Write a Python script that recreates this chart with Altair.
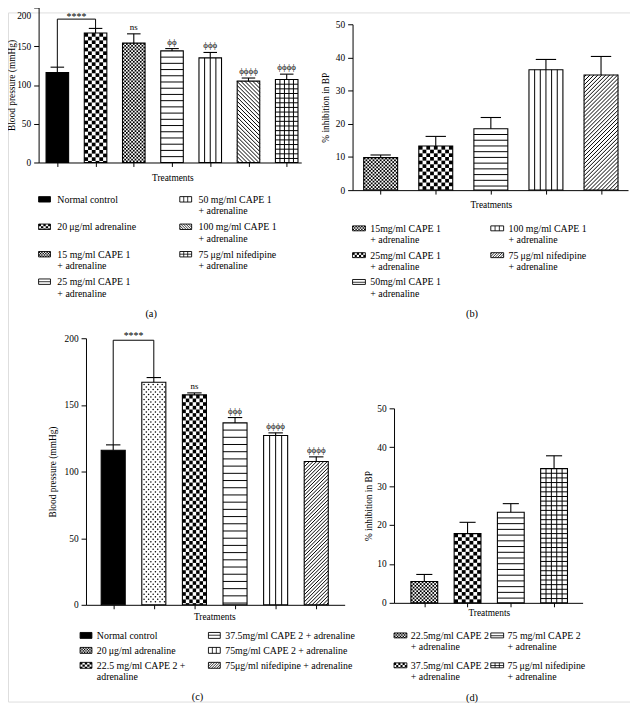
import altair as alt
import numpy as np
import pandas as pd

FONT = "Liberation Serif"
PHI = "\u03d5"
MU = "\u03bc"

# ---------------- values ----------------
A_LABELS = ["Normal control", "20\u2009" + MU + "g/ml adrenaline", "15 mg/ml CAPE 1\n+ adrenaline",
            "25 mg/ml CAPE 1\n+ adrenaline", "50 mg/ml CAPE 1\n+ adrenaline",
            "100 mg/ml CAPE 1\n+ adrenaline", "75\u2009" + MU + "g/ml nifedipine\n+ adrenaline"]
A_VALUES = [116, 167, 154, 144, 135, 105, 107]
A_ERRORS = [7, 6, 12, 3, 7, 4, 7]
A_SIG = ["", "", "ns", PHI * 2, PHI * 3, PHI * 4, PHI * 4]
A_PATTERNS = ["solid", "checker", "fine", "hlines", "vlines", "diag_down", "grid"]
A_BRACKET = 185
A_STARS = "****"

B_LABELS = ["15mg/ml CAPE 1\n+ adrenaline", "25mg/ml CAPE 1\n+ adrenaline", "50mg/ml CAPE 1\n+ adrenaline",
            "100 mg/ml CAPE 1\n+ adrenaline", "75\u2009" + MU + "g/ml nifedipine\n+ adrenaline"]
B_VALUES = [9.8, 13.3, 18.5, 36.3, 34.7]
B_ERRORS = [0.8, 2.9, 3.4, 3.1, 5.6]
B_PATTERNS = ["fine", "checker", "hlines", "vlines", "diag_up"]

C_LABELS = ["Normal control", "20\u2009" + MU + "g/ml adrenaline", "22.5 mg/ml CAPE 2 +\nadrenaline",
            "37.5mg/ml CAPE 2 + adrenaline", "75mg/ml CAPE 2 + adrenaline",
            "75" + MU + "g/ml nifedipine + adrenaline"]
C_VALUES = [116, 167, 157.5, 136.5, 127, 107.5]
C_ERRORS = [4, 3.5, 1.5, 4, 2, 3.5]
C_SIG = ["", "", "ns", PHI * 3, PHI * 4, PHI * 4]
C_PATTERNS = ["solid", "dots", "checker", "hlines", "vlines", "diag_up"]
C_LEGEND_PATTERNS = ["solid", "fine", "checker", "hlines", "vlines", "diag_up"]
C_BRACKET = 198.5
C_STARS = "****"

D_LABELS = ["22.5mg/ml CAPE 2\n+ adrenaline", "37.5mg/ml CAPE 2\n+ adrenaline",
            "75 mg/ml CAPE 2\n+ adrenaline", "75\u2009" + MU + "g/ml nifedipine\n+ adrenaline"]
D_VALUES = [5.5, 17.8, 23.3, 34.5]
D_ERRORS = [1.8, 2.9, 2.2, 3.3]
D_PATTERNS = ["fine", "checker", "hlines", "grid"]

CAPTIONS = ["(a)", "(b)", "(c)", "(d)"]

# ---------------- layout (page pixels) ----------------
W, H = 630, 698
OFF = 8

PANELS = {
    "a": dict(xdom=[-0.49, 6.38], xr=[39, 305], ydom=[0, 200], yr=[160, 3], half=0.295,
              yvals=[0, 50, 100, 150, 200], ytitle="Blood pressure (mmHg)", ytx=12, xt=(174.5, 175),
              sp={"hlines": 6.3}, top_label_shift=8),
    "b": dict(xdom=[-0.51, 4.49], xr=[357, 636], ydom=[0, 50], yr=[188, 20], half=0.308,
              yvals=[0, 10, 20, 30, 40, 50], ytitle="% inhibition in BP", ytx=330, xt=(497, 203),
              sp={"hlines": 5.8, "vlines": 5.7}),
    "c": dict(xdom=[-0.67, 5.7], xr=[87, 349], ydom=[0, 200], yr=[608, 338], half=0.296,
              yvals=[0, 50, 100, 150, 200], ytitle="Blood pressure (mmHg)", ytx=53, xt=(217, 620),
              sp={"hlines": 7.3, "vlines": 6.0, "diag": 3.6}),
    "d": dict(xdom=[-0.70, 3.66], xr=[399, 590], ydom=[0, 50], yr=[606, 409], half=0.31,
              yvals=[0, 10, 20, 30, 40, 50], ytitle="% inhibition in BP", ytx=373, xt=(495, 616),
              sp={"hlines": 5.8}),
}
LEGENDS = {
    "a": dict(cols=[39, 182], rows=[197.3, 280.7], nrows=4,
              place=[(0, 0), (0, 1), (0, 2), (0, 3), (1, 0), (1, 1), (1, 2)], sw=(12, 5.5), dx=19),
    "b": dict(cols=[357, 497], rows=[226.7, 281], nrows=3,
              place=[(0, 0), (0, 1), (0, 2), (1, 0), (1, 1)], sw=(13, 5), dx=18),
    "c": dict(cols=[81, 211], rows=[639, 669.3], nrows=3,
              place=[(0, 0), (0, 1), (0, 2), (1, 0), (1, 1), (1, 2)], sw=(12, 6), dx=17),
    "d": dict(cols=[399, 497], rows=[639, 669.3], nrows=2,
              place=[(0, 0), (0, 1), (1, 0), (1, 1)], sw=(13, 5), dx=17),
}
CAPTION_POS = [(153, 313), (478, 313), (200, 701), (478, 702)]

SP_BAR = {"checker": 3.7, "fine": 1.8, "hlines": 6.3, "vlines": 5.6, "grid": 4.7, "gridv": 5.0,
          "diag": 4.0, "dots": 4.6}
SP_SW = {"checker": 2.2, "fine": 1.4, "hlines": 2.8, "vlines": 4.0, "grid": 2.7, "gridv": 4.0,
         "diag": 2.6, "dots": 2.0}


def mkscale(dom, rng):
    return alt.Scale(domain=[float(d) for d in dom], range=[float(rng[0] - OFF), float(rng[1] - OFF)],
                     nice=False, zero=False)


class Frame:
    def __init__(self, xdom, xr, ydom, yr):
        self.xs = mkscale(xdom, xr)
        self.ys = mkscale(ydom, yr)
        self.kx = (xr[1] - xr[0]) / (xdom[1] - xdom[0])
        self.ky = (yr[0] - yr[1]) / (ydom[1] - ydom[0])

    def enc(self, x="x", y="y", x2=None, y2=None, xaxis=None, yaxis=None, **kw):
        e = {"x": alt.X(x + ":Q", scale=self.xs, axis=xaxis),
             "y": alt.Y(y + ":Q", scale=self.ys, axis=yaxis)}
        if x2:
            e["x2"] = alt.X2(x2 + ":Q")
        if y2:
            e["y2"] = alt.Y2(y2 + ":Q")
        e.update(kw)
        return e


def pattern_elems(kind, x0, x1, y0, y1, kx, ky, sp):
    Wp = (x1 - x0) * kx
    Hp = (y1 - y0) * ky
    rects, rules, dots = [], [], []

    def R(u0, u1, v0, v1):
        rects.append({"x": x0 + u0 / kx, "x2": x0 + u1 / kx, "y": y0 + v0 / ky, "y2": y0 + v1 / ky})

    def L(u0, v0, u1, v1):
        rules.append({"x": x0 + u0 / kx, "x2": x0 + u1 / kx, "y": y0 + v0 / ky, "y2": y0 + v1 / ky})

    if kind == "solid":
        R(0, Wp, 0, Hp)
    if kind in ("checker", "fine"):
        s = sp[kind]
        nx = max(2, int(round(Wp / s)))
        sx = Wp / nx
        ny = int(np.ceil(Hp / s - 1e-6))
        for j in range(ny):
            v1 = Hp - j * s
            v0 = max(0.0, Hp - (j + 1) * s)
            for i in range(nx):
                if (i + j) % 2 == 0:
                    R(i * sx, (i + 1) * sx, v0, v1)
    if kind in ("hlines", "grid"):
        s = sp[kind]
        v = Hp - s
        while v > 0.6:
            L(0, v, Wp, v)
            v -= s
    if kind in ("vlines", "grid"):
        s = sp["vlines" if kind == "vlines" else "gridv"]
        n = max(2, int(round(Wp / s)))
        for i in range(1, n):
            u = i * Wp / n
            L(u, 0, u, Hp)
    if kind == "diag_up":
        s = sp["diag"]
        c = -Hp + s / 2
        while c < Wp:
            ua, ub = max(0.0, c), min(Wp, c + Hp)
            if ub - ua > 0.3:
                L(ua, ua - c, ub, ub - c)
            c += s
    if kind == "diag_down":
        s = sp["diag"]
        c = s / 2
        while c < Wp + Hp:
            ua, ub = max(0.0, c - Hp), min(Wp, c)
            if ub - ua > 0.3:
                L(ua, c - ua, ub, c - ub)
            c += s
    if kind == "dots":
        s = sp["dots"]
        j = 0
        v = Hp - s / 2
        while v > 0.8:
            u = s / 2 + (s / 2 if j % 2 else 0)
            while u < Wp - 0.8:
                dots.append({"x": x0 + u / kx, "y": y0 + v / ky})
                u += s
            v -= s * 0.55
            j += 1
    return rects, rules, dots


def patterned(fr, items, sp, lw=1.0, olw=1.0, dot=2.4, axes=(None, None)):
    boxes, rects, rules, dots = [], [], [], []
    for kind, x0, x1, y0, y1 in items:
        boxes.append({"x": x0, "x2": x1, "y": y0, "y2": y1})
        r, l, d = pattern_elems(kind, x0, x1, y0, y1, fr.kx, fr.ky, sp)
        rects += r
        rules += l
        dots += d
    out = [alt.Chart(pd.DataFrame(boxes)).mark_rect(fill="white", strokeWidth=0).encode(
        **fr.enc(x2="x2", y2="y2", xaxis=axes[0], yaxis=axes[1]))]
    if rects:
        out.append(alt.Chart(pd.DataFrame(rects)).mark_rect(fill="black", strokeWidth=0).encode(
            **fr.enc(x2="x2", y2="y2")))
    if rules:
        out.append(alt.Chart(pd.DataFrame(rules)).mark_rule(color="black", strokeWidth=lw).encode(
            **fr.enc(x2="x2", y2="y2")))
    if dots:
        out.append(alt.Chart(pd.DataFrame(dots)).mark_circle(color="black", size=dot, opacity=1).encode(
            **fr.enc()))
    out.append(alt.Chart(pd.DataFrame(boxes)).mark_rect(fill="white", fillOpacity=0, stroke="black",
                                                        strokeWidth=olw).encode(**fr.enc(x2="x2", y2="y2")))
    return out


AX_COMMON = dict(domainColor="black", domainWidth=1, tickColor="black", tickWidth=1, grid=False,
                 titleFont=FONT, titleFontSize=9.5, titleFontWeight=400, titleColor="black")


def yaxis(g):
    ax0 = g["xr"][0] - OFF
    extra = {}
    if g.get("top_label_shift"):
        extra["labelOffset"] = {"condition": {"test": "datum.value == %d" % g["yvals"][-1],
                                              "value": g["top_label_shift"]}, "value": 0}
    return alt.Axis(orient="left", offset=-ax0, values=g["yvals"], tickSize=5, labelFont=FONT,
                    labelFontSize=9.5, labelColor="black", labelPadding=3, labelFlush=False,
                    labelOverlap=False, title=g["ytitle"], titleAngle=270,
                    titleX=g["ytx"] - g["xr"][0], titleY=(g["yr"][0] + g["yr"][1]) / 2 - OFF,
                    titleAlign="center", titleBaseline="middle", **AX_COMMON, **extra)


def xaxis(g, n):
    ay = g["yr"][0] - OFF
    return alt.Axis(orient="bottom", offset=ay - H, values=list(range(n)), labels=False, tickSize=4,
                    title="Treatments", titleX=g["xt"][0] - OFF, titleY=g["xt"][1] - g["yr"][0],
                    titleAlign="center", titleBaseline="middle", titleAngle=0, **AX_COMMON)


def panel(key, values, errors, patterns, sig=None, bracket=None, stars=None, star_dy=-1.5):
    g = PANELS[key]
    fr = Frame(g["xdom"], g["xr"], g["ydom"], g["yr"])
    n = len(values)
    half = g["half"]
    sp = dict(SP_BAR, **g.get("sp", {}))
    items = [(p, i - half, i + half, 0.0, float(v)) for i, (p, v) in enumerate(zip(patterns, values))]
    layers = patterned(fr, items, sp, lw=1.0, olw=1.1, dot=2.4, axes=(xaxis(g, n), yaxis(g)))
    cap = half * 0.6
    err = pd.DataFrame({
        "x": list(range(n)), "y": values, "top": [v + e for v, e in zip(values, errors)],
        "xl": [i - cap for i in range(n)], "xr": [i + cap for i in range(n)],
        "sig": sig if sig else [""] * n,
    })
    layers.append(alt.Chart(err).mark_rule(color="black", strokeWidth=1.1).encode(**fr.enc(y2="top")))
    layers.append(alt.Chart(err).mark_rule(color="black", strokeWidth=1.1).encode(
        **fr.enc(x="xl", x2="xr", y="top")))
    if sig:
        layers.append(alt.Chart(err).mark_text(font=FONT, fontSize=9, color="black", baseline="bottom",
                                               dy=-2).encode(**fr.enc(y="top", text="sig:N")))
    if bracket is not None:
        t0, t1 = values[0] + errors[0], values[1] + errors[1]
        seg = pd.DataFrame([
            {"x": 0, "y": t0, "x2": 0, "y2": bracket},
            {"x": 0, "y": bracket, "x2": 1, "y2": bracket},
            {"x": 1, "y": bracket, "x2": 1, "y2": t1},
        ])
        layers.append(alt.Chart(seg).mark_rule(color="black", strokeWidth=1).encode(
            **fr.enc(x2="x2", y2="y2")))
        st = pd.DataFrame([{"x": 0.5, "y": bracket, "t": stars}])
        layers.append(alt.Chart(st).mark_text(font=FONT, fontSize=10, color="black", baseline="alphabetic",
                                              dy=star_dy).encode(**fr.enc(text="t:N")))
    return layers


def legend(key, labels, patterns):
    lg = LEGENDS[key]
    n = lg["nrows"]
    fr = Frame([0, 1], lg["cols"], [0, n - 1], [lg["rows"][1], lg["rows"][0]])
    sw_w, sw_h = lg["sw"]
    items, texts = [], []
    for (col, row), lab, pat in zip(lg["place"], labels, patterns):
        yc = n - 1 - row
        items.append((pat, col, col + sw_w / fr.kx, yc - sw_h / 2 / fr.ky, yc + sw_h / 2 / fr.ky))
        texts.append({"x": col, "y": yc, "label": lab})
    layers = patterned(fr, items, SP_SW, lw=0.8, olw=0.9, dot=1.2)
    layers.append(alt.Chart(pd.DataFrame(texts)).mark_text(
        font=FONT, fontSize=10, color="black", align="left", baseline="alphabetic", dx=lg["dx"], dy=3.4,
        lineBreak="\n", lineHeight=11.7).encode(**fr.enc(text="label:N")))
    return layers


layers = []
layers += panel("a", A_VALUES, A_ERRORS, A_PATTERNS, A_SIG, A_BRACKET, A_STARS, star_dy=1.0)
layers += panel("b", B_VALUES, B_ERRORS, B_PATTERNS)
layers += panel("c", C_VALUES, C_ERRORS, C_PATTERNS, C_SIG, C_BRACKET, C_STARS, star_dy=-1.5)
layers += panel("d", D_VALUES, D_ERRORS, D_PATTERNS)
layers += legend("a", A_LABELS, A_PATTERNS)
layers += legend("b", B_LABELS, B_PATTERNS)
layers += legend("c", C_LABELS, C_LEGEND_PATTERNS)
layers += legend("d", D_LABELS, D_PATTERNS)

for cap, (cx, cy) in zip(CAPTIONS, CAPTION_POS):
    layers.append(alt.Chart(pd.DataFrame({"t": [cap]})).mark_text(
        font=FONT, fontSize=10.5, color="black", baseline="middle").encode(
        text="t:N", x=alt.value(cx - OFF), y=alt.value(cy - OFF)))

chart = alt.layer(*layers).properties(
    width=W, height=H, autosize=alt.AutoSizeParams(type="none"), padding=0
).resolve_scale(x="independent", y="independent").resolve_axis(
    x="independent", y="independent"
).configure_view(stroke=None).configure_axis(titleFontWeight="normal").configure(
    font=FONT, background="white")

chart.save("out.html", embed_options={"renderer": "svg", "actions": False})
